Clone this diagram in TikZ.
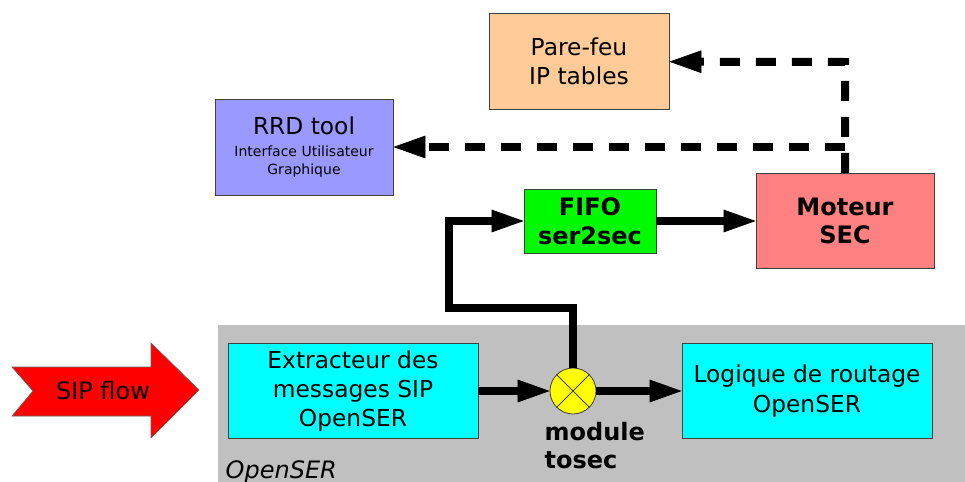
\documentclass[tikz,border=0pt]{standalone}
\usepackage{fontspec}
\setmainfont{DejaVu Sans}
\usetikzlibrary{arrows.meta}
\definecolor{ser_cyan}{RGB}{0, 255, 255}
\definecolor{ser_green}{RGB}{0, 250, 0}
\definecolor{ser_red}{RGB}{255, 128, 128}
\definecolor{ser_peach}{RGB}{255, 204, 153}
\definecolor{ser_blue}{RGB}{153, 153, 255}
\definecolor{ser_gray}{RGB}{192, 192, 192}
\definecolor{ser_yellow}{RGB}{255, 255, 0}
\tikzstyle{box}=[rectangle,draw=black!75,line width=0.6pt,inner sep=0pt,
  align=center,font=\fontsize{17.5}{22}\selectfont]
\tikzstyle{cn}=[box,fill=ser_cyan,minimum width=187.5pt,minimum height=71.5pt]
\tikzstyle{fn}=[box,fill=ser_green,minimum width=99pt,minimum height=48pt,
  font=\fontsize{18}{22}\selectfont\bfseries]
\tikzstyle{mn}=[box,fill=ser_red,minimum width=133.5pt,minimum height=71.5pt,
  font=\fontsize{18}{21}\selectfont\bfseries]
\tikzstyle{pn}=[box,fill=ser_peach,minimum width=135pt,minimum height=71.5pt]
\tikzstyle{bn}=[box,fill=ser_blue,minimum width=133.5pt,minimum height=72pt]
\tikzstyle{yn}=[circle,fill=ser_yellow,draw=black!75,line width=0.6pt,
  inner sep=0pt,minimum size=34.5pt]
\tikzstyle{flow}=[-{Triangle[length=24pt,width=17pt,line width=0.5pt]},line width=6pt]
\tikzstyle{dflow}=[flow,dash pattern=on 15pt off 12pt]
\tikzstyle{none}=[]

\begin{document}
\begin{tikzpicture}[x=0.75pt,y=-0.75pt]
            \useasboundingbox (0, 0) rectangle (965, 482);
            \fill [ser_gray] (218, 325) rectangle (965, 482);
            \fill [red,draw=black!60,line width=0.5pt] (12, 367) -- (151, 367) -- (151, 343)
              -- (199, 390) -- (151, 438) -- (151, 416) -- (12, 416) -- (33, 391) -- cycle;
            \node [style=none,font=\fontsize{18}{22}\selectfont] (14) at (103, 391) {SIP flow};
            \node [style=none,anchor=base west,font=\fontsize{18}{22}\selectfont\itshape] (15) at (221, 478) {OpenSER};
            \node [style=cn] (0) at (353, 391) {Extracteur des\\messages SIP\\OpenSER};
            \node [style=cn] (1) at (807, 391) {Logique de routage\\OpenSER};
            \node [style=fn] (2) at (590, 221) {FIFO\\ser2sec};
            \node [style=mn] (3) at (845, 221) {Moteur\\SEC};
            \node [style=pn] (4) at (579, 61.5) {Pare-feu\\IP tables};
            \node [style=bn] (5) at (304, 147) {RRD tool\\[-5pt]{\fontsize{10.5}{13}\selectfont Interface Utilisateur}\\[-8.5pt]{\fontsize{10.5}{13}\selectfont Graphique}};
            \node [style=yn] (6) at (573, 391) {};
            \node [style=none,anchor=west,align=left,font=\fontsize{18}{21}\selectfont\bfseries] (13) at (540, 446) {module\\tosec};
            \node [style=none] (8) at (573, 308) {};
            \node [style=none] (9) at (449, 308) {};
            \node [style=none] (10) at (449, 221) {};
            \node [style=none] (11) at (845, 62) {};
            \node [style=none] (12) at (845, 147) {};
            \draw [black!75,line width=0.6pt] (6.45) to (6.225);
            \draw [black!75,line width=0.6pt] (6.135) to (6.-45);
            \draw [style=flow] (0) to (6);
            \draw [style=flow] (6) to (1);
            \draw [style=flow] (6.north) to (8.center) to (9.center) to (10.center) to (2);
            \draw [style=flow] (2) to (3);
            \draw [style=dflow] (3.north) to (11.center) to (4);
            \draw [style=dflow] (12.center) to (5);
    \end{tikzpicture}
\end{document}
